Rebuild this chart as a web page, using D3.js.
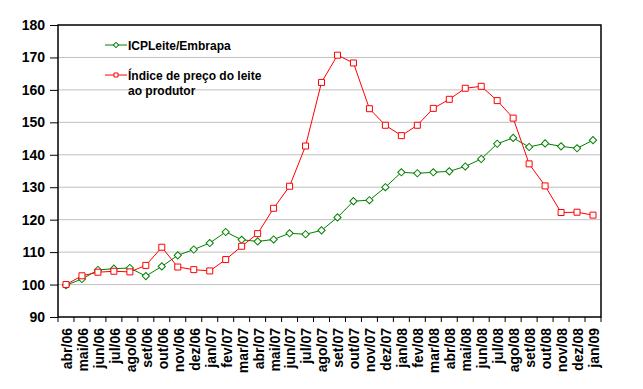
<!DOCTYPE html>
<html>
<head>
<meta charset="utf-8">
<title>ICPLeite</title>
<script src="https://cdn.jsdelivr.net/npm/d3@7"></script>
<style>
  body { margin: 0; background: #fff; }
  text { font-family: "Liberation Sans", Arial, sans-serif; font-weight: bold; fill: #000; }
</style>
</head>
<body>
<svg id="chart" width="643" height="389"></svg>
<script>
// months on the category axis
var months = ["abr/06","mai/06","jun/06","jul/06","ago/06","set/06","out/06","nov/06","dez/06",
  "jan/07","fev/07","mar/07","abr/07","mai/07","jun/07","jul/07","ago/07","set/07","out/07","nov/07","dez/07",
  "jan/08","fev/08","mar/08","abr/08","mai/08","jun/08","jul/08","ago/08","set/08","out/08","nov/08","dez/08",
  "jan/09"]

// ICPLeite/Embrapa
var icpLeite = [99.8,101.7,104.5,104.9,105.1,102.6,105.6,109.0,110.8,112.8,116.2,113.8,113.3,113.9,115.8,
  115.5,116.7,120.7,125.7,126.0,130.0,134.6,134.3,134.6,134.9,136.4,138.7,143.4,145.2,142.4,143.5,142.6,142.0,144.5]

// Índice de preço do leite ao produtor
var precoProdutor = [100,102.7,103.8,104.1,103.9,105.9,111.5,105.4,104.6,104.2,107.7,111.8,115.7,123.5,130.3,
  142.7,162.3,170.7,168.3,154.2,149.1,145.9,149.1,154.3,157.1,160.5,161.1,156.7,151.3,137.2,130.4,122.2,122.3,121.4]

var yTicks = [90,100,110,120,130,140,150,160,170,180]

var svg = d3.select("#chart")
var pLeft = 58, pRight = 601, pTop = 25, pBottom = 317

var x = d3.scaleBand().domain(months).range([pLeft, pRight])
var y = d3.scaleLinear().domain([90, 180]).range([pBottom, pTop])
var cx = d => x(d) + x.bandwidth() / 2

// gridlines
svg.append("g").selectAll("line")
  .data(yTicks.slice(1, -1))
  .enter().append("line")
    .attr("x1", pLeft).attr("x2", pRight)
    .attr("y1", d => y(d)).attr("y2", d => y(d))
    .attr("stroke", "#c0c0c0").attr("stroke-width", 1)

// y axis
var yAxis = svg.append("g")
  .attr("transform", "translate(" + pLeft + ",0)")
  .call(d3.axisLeft(y).tickValues(yTicks).tickSize(8).tickPadding(5))
yAxis.select(".domain").remove()
yAxis.selectAll("line").attr("stroke", "#000")
yAxis.selectAll("text").style("font-size", "14px")

// x axis, ticks between categories
var xAxis = svg.append("g")
  .attr("transform", "translate(0," + pBottom + ")")
  .call(d3.axisBottom(x).tickSize(0))
xAxis.select(".domain").remove()
xAxis.selectAll("text")
  .style("font-size", "14px")
  .attr("text-anchor", "end")
  .attr("transform", "rotate(-90)")
  .attr("x", -11).attr("y", 1).attr("dy", "0.35em")
svg.append("g").selectAll("line")
  .data(months.concat(["end"]))
  .enter().append("line")
    .attr("x1", (d, i) => pLeft + i * x.step()).attr("x2", (d, i) => pLeft + i * x.step())
    .attr("y1", pBottom).attr("y2", pBottom + 5)
    .attr("stroke", "#000")

// frame
svg.append("rect")
  .attr("x", pLeft).attr("y", pTop)
  .attr("width", pRight - pLeft).attr("height", pBottom - pTop)
  .attr("fill", "none").attr("stroke", "#000").attr("stroke-width", 1.5)

function drawSeries(values, color, marker) {
  var line = d3.line().x((d, i) => cx(months[i])).y(d => y(d))
  svg.append("path").datum(values)
    .attr("d", line).attr("fill", "none")
    .attr("stroke", color).attr("stroke-width", 1)
  svg.append("g").selectAll("path")
    .data(values)
    .enter().append("path")
      .attr("d", d3.symbol().type(marker.type).size(marker.size))
      .attr("transform", (d, i) => "translate(" + cx(months[i]) + "," + y(d) + ")" + (marker.rotate ? " rotate(45)" : ""))
      .attr("fill", "#fff").attr("stroke", color).attr("stroke-width", 1)
}

drawSeries(icpLeite, "#008000", {type: d3.symbolSquare, size: 26, rotate: true})
drawSeries(precoProdutor, "#ff0000", {type: d3.symbolSquare, size: 36})

// legend
var legend = [
  {label: ["ICPLeite/Embrapa"], color: "#008000", rotate: true, size: 14, y: 45},
  {label: ["Índice de preço do leite", "ao produtor"], color: "#ff0000", rotate: false, size: 16, y: 75}
]
var lg = svg.append("g").selectAll("g").data(legend).enter().append("g")
lg.append("line")
  .attr("x1", 105).attr("x2", 127)
  .attr("y1", d => d.y).attr("y2", d => d.y)
  .attr("stroke", d => d.color)
lg.append("path")
  .attr("d", d => d3.symbol().type(d3.symbolSquare).size(d.size)())
  .attr("transform", d => "translate(116," + d.y + ")" + (d.rotate ? " rotate(45)" : ""))
  .attr("fill", "#fff").attr("stroke", d => d.color)
lg.append("text")
  .attr("x", 128).attr("y", d => d.y + 5)
  .style("font-size", "12px")
  .selectAll("tspan").data(d => d.label).enter().append("tspan")
    .attr("x", 128).attr("dy", (d, i) => i ? 14.5 : 0)
    .text(d => d)
</script>
</body>
</html>
